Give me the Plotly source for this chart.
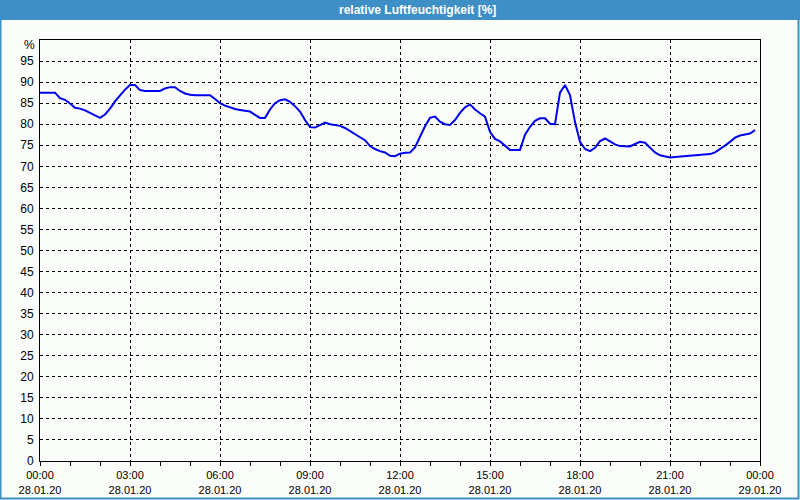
import plotly.graph_objects as go

# ---- data ----
times = [
    "00:00","00:10","00:20","00:30","00:40","00:50","01:00","01:10","01:20","01:30","01:40","01:50",
    "02:00","02:10","02:20","02:30","02:40","02:50","03:00","03:10","03:20","03:30","03:40","03:50",
    "04:00","04:10","04:20","04:30","04:40","04:50","05:00","05:10","05:20","05:30","05:40","05:50",
    "06:00","06:10","06:20","06:30","06:40","06:50","07:00","07:10","07:20","07:30","07:40","07:50",
    "08:00","08:10","08:20","08:30","08:40","08:50","09:00","09:10","09:20","09:30","09:40","09:50",
    "10:00","10:10","10:20","10:30","10:40","10:50","11:00","11:10","11:20","11:30","11:40","11:50",
    "12:00","12:10","12:20","12:30","12:40","12:50","13:00","13:10","13:20","13:30","13:40","13:50",
    "14:00","14:10","14:20","14:30","14:40","14:50","15:00","15:10","15:20","15:30","15:40","15:50",
    "16:00","16:10","16:20","16:30","16:40","16:50","17:00","17:10","17:20","17:30","17:40","17:50",
    "18:00","18:10","18:20","18:30","18:40","18:50","19:00","19:10","19:20","19:30","19:40","19:50",
    "20:00","20:10","20:20","20:30","20:40","20:50","21:00","21:10","21:20","21:30","21:40","21:50",
    "22:00","22:10","22:20","22:30","22:40","22:50","23:00","23:10","23:20","23:30","23:40","23:50",
]
humidity = [
    87.5, 87.5, 87.5, 87.5, 86.2, 85.8, 84.9, 83.9, 83.7, 83.3, 82.7, 82.0,
    81.5, 82.3, 83.7, 85.4, 86.9, 88.2, 89.3, 89.3, 88.1, 87.9, 87.9, 87.9,
    87.9, 88.5, 88.8, 88.8, 87.9, 87.3, 87.0, 86.9, 86.9, 86.9, 86.9, 86.0,
    85.0, 84.4, 84.0, 83.6, 83.4, 83.2, 83.0, 82.2, 81.5, 81.5, 83.5, 85.0,
    85.7, 85.9, 85.3, 84.3, 83.0, 81.0, 79.3, 79.2, 79.8, 80.4, 80.0, 79.8,
    79.6, 79.1, 78.3, 77.6, 76.9, 76.2, 74.8, 74.1, 73.6, 73.3, 72.5, 72.4,
    73.0, 73.2, 73.3, 74.5, 77.0, 79.5, 81.5, 81.8, 80.6, 80.0, 79.8, 81.0,
    82.7, 84.0, 84.7, 83.5, 82.6, 81.8, 78.2, 76.5, 75.9, 74.9, 73.9, 73.9,
    73.9, 77.5, 79.4, 80.8, 81.4, 81.4, 80.1, 80.0, 87.5, 89.3, 86.9, 80.5,
    75.8, 74.1, 73.6, 74.4, 76.0, 76.6, 76.0, 75.2, 74.8, 74.7, 74.7, 75.3,
    75.8, 75.6, 74.5, 73.3, 72.6, 72.3, 72.1, 72.2, 72.3, 72.4, 72.4, 72.5,
    72.6, 72.7, 72.9, 73.3, 74.0, 74.9, 75.8, 76.8, 77.3, 77.5, 77.8, 78.6,
]
tick_times = ["2020-01-28 00:00", "2020-01-28 03:00", "2020-01-28 06:00", "2020-01-28 09:00",
              "2020-01-28 12:00", "2020-01-28 15:00", "2020-01-28 18:00", "2020-01-28 21:00",
              "2020-01-29 00:00"]
tick_labels = ["00:00<br>28.01.20", "03:00<br>28.01.20", "06:00<br>28.01.20", "09:00<br>28.01.20",
               "12:00<br>28.01.20", "15:00<br>28.01.20", "18:00<br>28.01.20", "21:00<br>28.01.20",
               "00:00<br>29.01.20"]
y_ticks = list(range(0, 100, 5))
title = "relative Luftfeuchtigkeit [%]"

x = ["2020-01-28 " + t for t in times]

W, H = 800, 500
L, R, T, B = 40, 40, 40, 39
pw, ph = W - L - R, H - T - B
def px(xp): return (xp - L) / pw
def py(yp): return (H - B - yp) / ph

HEADER = "#3d8fc6"
BG = "#fbfdfb"
FONT = "Liberation Sans"

fig = go.Figure()
fig.add_trace(go.Scatter(x=x, y=humidity, mode="lines",
                         line=dict(color="#0000ee", width=2), hoverinfo="skip"))

fig.update_layout(
    width=W, height=H, autosize=False,
    margin=dict(l=L, r=R, t=T, b=B, autoexpand=False),
    paper_bgcolor=BG, plot_bgcolor=BG,
    showlegend=False,
    font=dict(family=FONT, size=11, color="#000000"),
    xaxis=dict(
        type="date", automargin=False,
        range=["2020-01-28 00:00", "2020-01-29 00:00"],
        tickvals=tick_times, ticktext=tick_labels,
        showgrid=True, gridcolor="#000000", gridwidth=1, griddash="3px,3px",
        showline=True, linecolor="#000000", linewidth=1, mirror=True,
        ticks="outside", ticklen=4, tickcolor="#000000", tickwidth=1,
        minor=dict(dtick=3600000, ticks="outside", ticklen=4, tickcolor="#000000", showgrid=False),
        tickfont=dict(family=FONT, size=11, color="#000000"),
        zeroline=False, fixedrange=True,
    ),
    yaxis=dict(
        range=[0, 100], automargin=False,
        tickvals=y_ticks, ticktext=[str(v) for v in y_ticks],
        showgrid=True, gridcolor="#000000", gridwidth=1, griddash="3px,3px",
        showline=True, linecolor="#000000", linewidth=1, mirror=True,
        ticks="", ticklabelstandoff=3,
        tickfont=dict(family=FONT, size=12, color="#000000"),
        zeroline=False, fixedrange=True,
    ),
    shapes=[
        dict(type="rect", xref="paper", yref="paper",
             x0=px(0), x1=px(W), y0=py(20), y1=py(0),
             fillcolor=HEADER, line=dict(width=0), layer="above"),
        dict(type="rect", xref="paper", yref="paper",
             x0=px(0.5), x1=px(798.5), y0=py(498.5), y1=py(0),
             fillcolor="rgba(0,0,0,0)", line=dict(color=HEADER, width=2), layer="above"),
    ],
    annotations=[
        dict(text=title, xref="paper", yref="paper", x=px(417), y=py(10),
             xanchor="center", yanchor="middle", showarrow=False,
             font=dict(family=FONT, size=12, color="#ffffff", weight="bold")),
        dict(text="%", xref="paper", yref="paper", x=px(37), y=py(45),
             xanchor="right", yanchor="middle", showarrow=False,
             font=dict(family=FONT, size=12, color="#000000")),
    ],
)

fig.write_html("out.html")
